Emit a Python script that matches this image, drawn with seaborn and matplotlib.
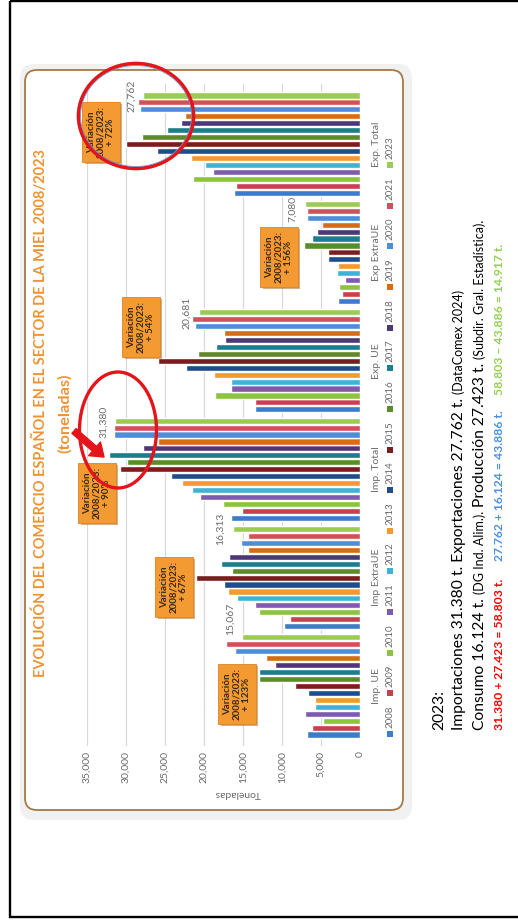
import numpy as np
import pandas as pd
import matplotlib
matplotlib.use("Agg")
import matplotlib.pyplot as plt
import matplotlib.patheffects as pe
import seaborn as sns
from matplotlib.patches import Ellipse, Rectangle, FancyBboxPatch, FancyArrowPatch
from matplotlib.transforms import Affine2D

# ---- datos (toneladas) ----
flujos = ["Imp. UE", "Imp ExtraUE", "Imp. Total", "Exp. UE", "Exp ExtraUE", "Exp. Total"]
anios = ["2008", "2009", "2010", "2011", "2012", "2013", "2014", "2015",
         "2016", "2017", "2018", "2019", "2020", "2021", "2023"]

imp_ue = [6756, 6170, 4680, 7020, 5740, 5740, 6720, 8300,
          12890, 12980, 10850, 12000, 16080, 17140, 15067]
imp_extraue = [9768, 9020, 12980, 13400, 15740, 16890, 17450, 20980,
               16380, 17870, 16810, 14380, 15320, 14380, 16313]
imp_total = [16516, 15190, 17570, 20550, 21490, 22760, 24250, 30760,
             29910, 32210, 27790, 25960, 31490, 31490, 31380]
exp_ue = [13430, 13400, 18640, 16590, 16590, 18720, 22250, 25870,
          20720, 18510, 17320, 17450, 21150, 21570, 20681]
exp_extraue = [2766, 2255, 2680, 1915, 2980, 2850, 4040, 4040,
               7230, 6170, 5530, 4810, 6810, 6810, 7080]
exp_total = [16141, 15870, 21400, 18810, 19870, 21700, 26040, 30000,
             28000, 24760, 22980, 22420, 28210, 28420, 27762]

variaciones = ["+ 123%", "+ 67%", "+ 90%", "+ 54%", "+ 156%", "+ 72%"]

colores = ["#3C7CC8", "#C8404E", "#8CC43E", "#7D5CB0", "#3DB3D6", "#F29A2E",
           "#1F4C8A", "#7B1C1E", "#5D8A2C", "#1C7D8E", "#4B3877", "#D66C14",
           "#4F8ED6", "#D24F5C", "#9BCB55"]

titulo = "EVOLUCIÓN DEL COMERCIO ESPAÑOL EN EL SECTOR DE LA MIEL 2008/2023"

# ---- estilo ----
sns.set_style("white")
plt.rcParams["font.family"] = ["Lato", "DejaVu Sans"]
GRIS = "#6B6B6B"

W, H = 518, 921
fig = plt.figure(figsize=(W / 100, H / 100), dpi=100)
fig.patch.set_facecolor("white")
# page pixels, origin at the top-left corner
page = Affine2D().scale(1, -1).translate(0, H)
renderer = fig.canvas.get_renderer()

# page border
fig.add_artist(Rectangle((10, 1), 540, 916, transform=page, fill=False,
                         ec="black", lw=1.7, zorder=-3))
# chart frame with soft shadow
fig.add_artist(FancyBboxPatch((20, 64), 392, 756, boxstyle="round,pad=0,rounding_size=14",
                              transform=page, fc="#F1F1F1", ec="none", zorder=-2))
fig.add_artist(FancyBboxPatch((25, 70), 378, 740, boxstyle="round,pad=0,rounding_size=12",
                              transform=page, fc="white", ec="#A57B45", lw=1.3, zorder=-1))

# ---- bar chart (rotated a quarter turn: values grow to the left) ----
ax_left, ax_right, ax_top, ax_bottom = 87, 360, 84.4, 745.6
ax = fig.add_axes([ax_left / W, (H - ax_bottom) / H,
                   (ax_right - ax_left) / W, (ax_bottom - ax_top) / H])
ax.set_facecolor("none")

valores = [imp_ue, imp_extraue, imp_total, exp_ue, exp_extraue, exp_total]
df = pd.DataFrame({
    "flujo": np.repeat(flujos, len(anios)),
    "anio": anios * len(flujos),
    "toneladas": np.concatenate(valores),
})
sns.barplot(data=df, x="toneladas", y="flujo", hue="anio", order=flujos,
            hue_order=anios, palette=colores, orient="h", width=0.96, gap=0.12,
            saturation=1, errorbar=None, legend=False, ax=ax)

ax.set_xlim(35000, 0)
ax.set_ylim(-0.55, len(flujos) - 0.45)
ticks = np.arange(0, 35001, 5000)
ax.set_xticks(ticks)
ax.set_xticklabels([f"{t:,}" for t in ticks], rotation=90)
ax.grid(axis="x", color="#D9D9D9", lw=0.9)
ax.grid(axis="y", visible=False)
ax.set_axisbelow(True)
for s in ax.spines.values():
    s.set_visible(False)
ax.tick_params(axis="x", length=0, pad=4, labelsize=7.5, labelcolor=GRIS)
ax.yaxis.tick_right()
ax.set_yticks(range(len(flujos)), flujos, rotation=90, va="center", ha="left")
ax.tick_params(axis="y", length=0, pad=9, labelsize=7.5, labelcolor=GRIS,
               left=False, labelleft=False, right=False, labelright=True)
ax.set_xlabel("")
ax.set_ylabel("")

# value labels on the 2023 bars
desplaz = [19, 0, -1, -1, -5, 0]
for barra in ax.containers[-1]:
    yc = barra.get_y() + barra.get_height() / 2
    i = int(round(yc))
    valor = valores[i][-1]
    ax.annotate(f"{valor:,}", xy=(valor, yc), xytext=(-12, desplaz[i]),
                textcoords="offset pixels", rotation=90, ha="center", va="center",
                fontsize=7.5, color=GRIS, annotation_clip=False)

fig.text(238, 793, "Toneladas", transform=page, rotation=180, ha="center",
         va="center", fontsize=7.5, color=GRIS)

# legend along the bottom of the chart
for i, (anio, col) in enumerate(zip(anios, colores)):
    yc = 734 - i * 40.64
    fig.add_artist(Rectangle((387, yc - 3), 6, 6, transform=page, fc=col, ec="none"))
    fig.text(390, yc - 6, anio, transform=page, rotation=90, rotation_mode="anchor",
             ha="left", va="center", fontsize=7, color=GRIS)

# title
def ajustar(t, largo):
    bb = t.get_window_extent(renderer)
    t.set_fontsize(t.get_fontsize() * largo / bb.height)

t = fig.text(40, 413, titulo, transform=page, rotation=90, ha="center", va="center",
             color="#EC9434", fontweight="bold", fontsize=10)
ajustar(t, 533)
t = fig.text(65, 413, "(toneladas)", transform=page, rotation=90, ha="center",
             va="center", color="#EC9434", fontweight="bold", fontsize=10)
ajustar(t, 80)

# variation call-outs
cajas_pos = [(237, 694), (174, 587), (97, 493), (141, 327), (279, 257), (101, 132)]
for texto, (cx, cy) in zip(variaciones, cajas_pos):
    t = fig.text(cx, cy, f"Variación\n2008/2023:\n{texto}", transform=page, rotation=90,
                 ha="center", va="center", multialignment="center", fontsize=7,
                 fontweight="bold", color="#3A2812", linespacing=1.1, zorder=5,
                 bbox=dict(boxstyle="square,pad=0.45", fc="#F39A33", ec="#DC8424", lw=0.6))
    t.get_bbox_patch().set_path_effects(
        [pe.withSimplePatchShadow(offset=(1.5, -1.5), shadow_rgbFace="#A86018", alpha=0.5)])

# red highlight marks
ROJO = "#E3151A"
fig.add_artist(Ellipse((136, 116), 115, 105, transform=page, fill=False, ec=ROJO,
                       lw=2.6, zorder=7))
fig.add_artist(Ellipse((136, 116), 111, 101, transform=page, fill=False, ec="#7A8FC0",
                       lw=0.6, zorder=7))
fig.add_artist(Ellipse((118, 430), 77, 116, transform=page, fill=False, ec=ROJO,
                       lw=2.4, zorder=7))
fig.add_artist(FancyArrowPatch((74, 431), (104, 457), transform=page,
                               arrowstyle="simple,head_length=0.9,head_width=1.3,tail_width=0.45",
                               mutation_scale=10, fc=ROJO, ec=ROJO, shrinkA=0, shrinkB=0,
                               zorder=8))

# notes on the right-hand side
def linea(x_base, y_ini, largo, segmentos):
    textos = []
    for s, tam, col, peso, hueco in segmentos:
        textos.append(fig.text(x_base, y_ini, s, transform=page, rotation=90,
                               rotation_mode="anchor", ha="left", va="baseline",
                               fontsize=tam, color=col, fontweight=peso))
    huecos = [seg[4] for seg in segmentos]
    total = sum(t.get_window_extent(renderer).height for t in textos)
    esc = (largo - sum(huecos)) / total
    y = y_ini
    for t, hueco in zip(textos, huecos):
        t.set_fontsize(t.get_fontsize() * esc)
        t.set_position((x_base, y))
        y -= t.get_window_extent(renderer).height + hueco
    return esc

esc2 = linea(463, 730, 440, [
    ("Importaciones 31.380 t. Exportaciones 27.762 t.", 11, "black", "normal", 4),
    ("(DataComex 2024)", 8.8, "black", "normal", 0)])
fig.text(443, 730, "2023:", transform=page, rotation=90, rotation_mode="anchor",
         ha="left", va="baseline", fontsize=11 * esc2, color="black")
linea(484, 730, 510, [
    ("Consumo 16.124 t.", 11, "black", "normal", 4),
    ("(DG Ind. Alim.).", 8.8, "black", "normal", 4),
    ("Producción 27.423 t.", 11, "black", "normal", 4),
    ("(Subdir. Gral. Estadística).", 8.8, "black", "normal", 0)])
linea(503, 730, 480, [
    ("31.380 + 27.423 = 58.803 t.", 8.5, "#FF0000", "bold", 18),
    ("27.762 + 16.124 = 43.886 t.", 8.5, "#4A8FE0", "bold", 15),
    ("58.803 – 43.886 = 14.917 t.", 8.5, "#92D050", "bold", 0)])

fig.savefig("out.png", dpi=100, facecolor="white")
